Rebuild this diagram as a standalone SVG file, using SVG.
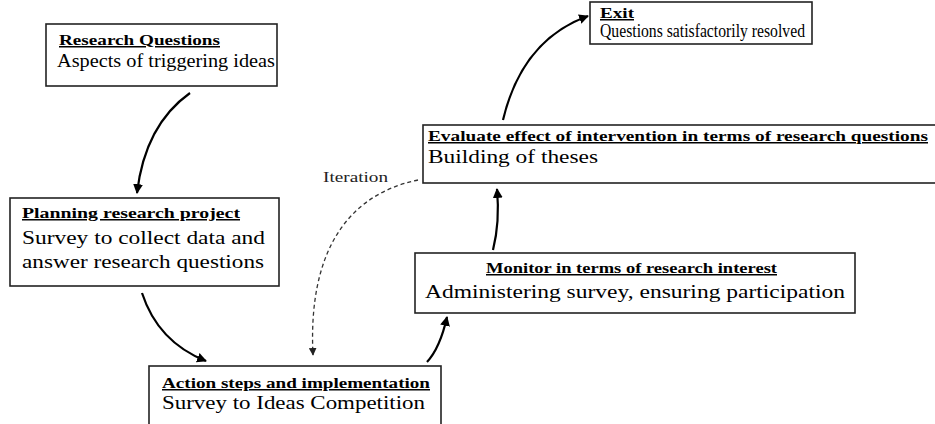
<svg xmlns="http://www.w3.org/2000/svg" width="935" height="424" viewBox="0 0 935 424">
<style>
.box{fill:#fff;stroke:#222;stroke-width:1.6}
.t{font-family:"Liberation Serif","Times New Roman",serif;font-weight:bold;font-size:15px;text-decoration:underline;fill:#000}
.b{font-family:"Liberation Serif","Times New Roman",serif;font-size:19px;fill:#000}
.lbl{font-family:"Liberation Serif","Times New Roman",serif;font-size:15px;fill:#222}
.c{fill:none;stroke:#000;stroke-width:2.2}
.d{fill:none;stroke:#333;stroke-width:1.3;stroke-dasharray:4 3}
</style>
<defs>
<marker id="ah" viewBox="0 0 10 10" refX="9" refY="5" markerWidth="4.5" markerHeight="4.5" orient="auto" markerUnits="strokeWidth">
<path d="M0,0 L10,5 L0,10 z" fill="#000"/>
</marker>
<marker id="ahd" viewBox="0 0 10 10" refX="9" refY="5" markerWidth="6" markerHeight="6" orient="auto" markerUnits="strokeWidth">
<path d="M0,0 L10,5 L0,10 z" fill="#222"/>
</marker>
</defs>
<g id="n1">
<rect class="box" x="46" y="24" width="231" height="62"/>
<text class="t" x="59" y="45" textLength="161" lengthAdjust="spacingAndGlyphs">Research Questions</text>
<text class="b" x="57" y="67" textLength="218" lengthAdjust="spacingAndGlyphs">Aspects of triggering ideas</text>
</g>
<g id="n2">
<rect class="box" x="10" y="198" width="269" height="88"/>
<text class="t" x="22" y="218" textLength="218" lengthAdjust="spacingAndGlyphs">Planning research project </text>
<text class="b" x="22" y="244" textLength="243" lengthAdjust="spacingAndGlyphs">Survey to collect data and</text>
<text class="b" x="22" y="268" textLength="242" lengthAdjust="spacingAndGlyphs">answer research questions</text>
</g>
<g id="n3">
<rect class="box" x="149" y="366" width="292" height="70"/>
<text class="t" x="162" y="388" textLength="268" lengthAdjust="spacingAndGlyphs">Action steps and implementation</text>
<text class="b" x="162" y="409" textLength="263" lengthAdjust="spacingAndGlyphs">Survey to Ideas Competition</text>
</g>
<g id="n4">
<rect class="box" x="415" y="253" width="440" height="60"/>
<text class="t" x="486" y="273" textLength="291" lengthAdjust="spacingAndGlyphs">Monitor in terms of research interest</text>
<text class="b" x="425" y="298" textLength="420" lengthAdjust="spacingAndGlyphs">Administering survey, ensuring participation</text>
</g>
<g id="n5">
<rect class="box" x="423" y="125" width="515" height="58"/>
<text class="t" x="428" y="141" textLength="500" lengthAdjust="spacingAndGlyphs">Evaluate effect of intervention  in terms of research questions</text>
<text class="b" x="428" y="163" textLength="170" lengthAdjust="spacingAndGlyphs">Building of theses</text>
</g>
<g id="n6">
<rect class="box" x="590" y="2" width="222" height="42"/>
<text class="t" x="600" y="18" textLength="34" lengthAdjust="spacingAndGlyphs">Exit</text>
<text class="b" x="600" y="37" font-size="17" textLength="205" lengthAdjust="spacingAndGlyphs">Questions satisfactorily resolved</text>
</g>
<g id="connectors">
<path class="c" d="M190,93 Q145,125 137,193" marker-end="url(#ah)"/>
<path class="c" d="M142,293 Q158,342 206,361" marker-end="url(#ah)"/>
<path class="c" d="M427,362 Q440,348 447,317" marker-end="url(#ah)"/>
<path class="c" d="M493,250 Q500,222 497,189" marker-end="url(#ah)"/>
<path class="c" d="M503,120 Q522,40 588,16" marker-end="url(#ah)"/>
<path class="d" d="M418,180 C345,195 308,255 313,355" marker-end="url(#ahd)"/>
<text class="lbl" x="323" y="182" textLength="65" lengthAdjust="spacingAndGlyphs">Iteration</text>
</g>
</svg>
